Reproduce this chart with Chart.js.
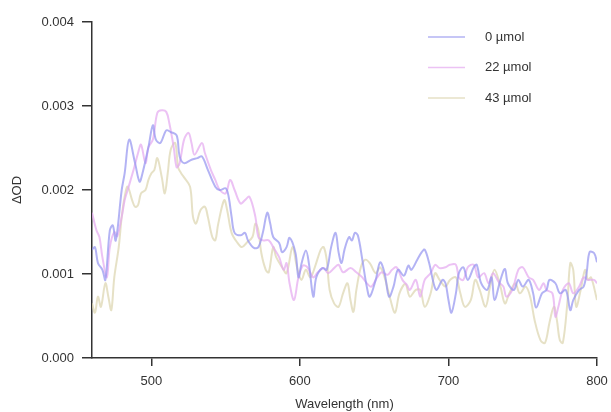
<!DOCTYPE html>
<html>
<head>
<meta charset="utf-8">
<script src="https://cdn.jsdelivr.net/npm/chart.js@4/dist/chart.umd.min.js"></script>
<style>
  body { margin: 0; background: #fff; }
  canvas { display: block; }
</style>
</head>
<body>
<canvas id="odChart" width="611" height="412"></canvas>
<script>
// series labels
const seriesLabels = ['0 µmol', '22 µmol', '43 µmol'];
const xTicks = [500, 600, 700, 800];
const yTicks = [0, 0.001, 0.002, 0.003, 0.004];

// 0 µmol
const nm0 = [460,462,464,467,469,472,474,476,480,482,485,489,492,494,498,501,503,506,510,513,517,519,522,527,531,534,538,543,546,550,552,554,556,560,563,565,569,572,575,578,580,582,586,588,591,593,597,599,601,604,606,609,611,615,618,621,624,626,628,630,633,635,637,639,642,645,647,651,654,657,660,663,666,670,673,675,679,682,684,687,690,692,696,698,700,702,705,707,710,713,717,719,722,726,729,731,735,738,740,744,747,750,754,757,759,763,766,768,772,775,779,782,784,788,791,793,795,798,800];
const od0 = [0.00129,0.00132,0.00113,0.00105,0.00093,0.00152,0.00158,0.00140,0.00200,0.00220,0.00260,0.00232,0.00210,0.00220,0.00251,0.00277,0.00260,0.00256,0.00271,0.00269,0.00265,0.00240,0.00232,0.00236,0.00238,0.00240,0.00224,0.00204,0.00200,0.00202,0.00192,0.00168,0.00149,0.00146,0.00149,0.00140,0.00131,0.00132,0.00149,0.00173,0.00160,0.00144,0.00137,0.00126,0.00132,0.00143,0.00125,0.00096,0.00112,0.00128,0.00113,0.00073,0.00096,0.00107,0.00105,0.00132,0.00149,0.00126,0.00113,0.00129,0.00144,0.00140,0.00149,0.00146,0.00117,0.00085,0.00073,0.00093,0.00114,0.00101,0.00073,0.00085,0.00105,0.00098,0.00110,0.00105,0.00117,0.00126,0.00129,0.00113,0.00089,0.00081,0.00093,0.00089,0.00069,0.00054,0.00077,0.00101,0.00108,0.00093,0.00108,0.00111,0.00089,0.00081,0.00096,0.00069,0.00093,0.00106,0.00089,0.00081,0.00093,0.00085,0.00093,0.00077,0.00060,0.00077,0.00081,0.00093,0.00089,0.00077,0.00081,0.00057,0.00069,0.00081,0.00085,0.00101,0.00126,0.00125,0.00114];

// 22 µmol
const nm22 = [460,463,465,467,470,472,475,477,480,482,484,488,491,493,496,498,501,504,507,510,512,515,517,519,522,525,527,529,534,536,540,543,546,550,553,556,560,563,566,570,572,575,579,582,586,589,591,593,596,599,602,605,609,612,616,619,623,626,629,634,638,642,645,648,652,655,659,662,665,669,672,674,678,681,684,688,691,694,698,701,705,707,710,713,717,720,724,727,730,734,737,739,743,747,750,754,757,761,764,766,770,772,774,777,781,784,788,791,794,798,800];
const od22 = [0.00173,0.00152,0.00144,0.00120,0.00096,0.00132,0.00150,0.00145,0.00168,0.00188,0.00200,0.00224,0.00244,0.00254,0.00232,0.00251,0.00260,0.00292,0.00295,0.00293,0.00280,0.00251,0.00227,0.00232,0.00260,0.00268,0.00256,0.00242,0.00256,0.00244,0.00224,0.00212,0.00200,0.00196,0.00212,0.00200,0.00184,0.00188,0.00192,0.00168,0.00144,0.00140,0.00140,0.00132,0.00120,0.00105,0.00113,0.00089,0.00069,0.00096,0.00110,0.00108,0.00096,0.00102,0.00107,0.00101,0.00107,0.00111,0.00102,0.00107,0.00102,0.00096,0.00089,0.00085,0.00096,0.00102,0.00099,0.00105,0.00108,0.00093,0.00087,0.00081,0.00093,0.00073,0.00093,0.00101,0.00111,0.00107,0.00108,0.00111,0.00111,0.00096,0.00093,0.00108,0.00111,0.00096,0.00101,0.00089,0.00101,0.00090,0.00085,0.00073,0.00081,0.00105,0.00108,0.00096,0.00093,0.00081,0.00089,0.00081,0.00077,0.00049,0.00061,0.00081,0.00089,0.00077,0.00085,0.00096,0.00093,0.00093,0.00089];

// 43 µmol
const nm43 = [460,462,464,466,469,471,473,475,478,480,482,484,487,489,491,493,496,498,500,502,504,507,509,511,513,516,518,520,522,526,528,530,533,536,538,541,543,545,549,551,554,558,561,564,568,570,572,574,577,579,582,584,588,591,595,598,601,604,607,610,614,616,618,620,623,626,629,632,634,636,638,641,644,647,651,654,657,661,664,667,671,674,678,681,684,688,691,694,698,701,705,708,711,715,718,721,725,728,731,735,738,741,745,748,752,755,758,762,765,768,771,773,775,777,780,782,784,786,789,792,794,796,800];
const od43 = [0.00065,0.00054,0.00073,0.00061,0.00089,0.00073,0.00057,0.00096,0.00132,0.00168,0.00192,0.00204,0.00188,0.00180,0.00182,0.00196,0.00200,0.00212,0.00220,0.00224,0.00238,0.00215,0.00196,0.00220,0.00248,0.00256,0.00227,0.00220,0.00215,0.00204,0.00168,0.00160,0.00176,0.00180,0.00168,0.00144,0.00140,0.00160,0.00188,0.00176,0.00149,0.00137,0.00132,0.00137,0.00144,0.00160,0.00152,0.00125,0.00105,0.00102,0.00132,0.00120,0.00108,0.00101,0.00132,0.00108,0.00093,0.00105,0.00096,0.00108,0.00129,0.00132,0.00117,0.00081,0.00065,0.00061,0.00077,0.00089,0.00069,0.00055,0.00081,0.00108,0.00117,0.00113,0.00101,0.00108,0.00096,0.00069,0.00054,0.00077,0.00088,0.00073,0.00081,0.00081,0.00061,0.00077,0.00101,0.00093,0.00085,0.00093,0.00096,0.00077,0.00061,0.00069,0.00093,0.00081,0.00061,0.00085,0.00105,0.00085,0.00065,0.00077,0.00089,0.00077,0.00085,0.00073,0.00045,0.00021,0.00018,0.00042,0.00061,0.00045,0.00021,0.00018,0.00065,0.00113,0.00105,0.00061,0.00081,0.00105,0.00093,0.00096,0.00069];

const lineColors = ['rgba(150, 150, 240, 0.72)', 'rgba(228, 170, 240, 0.72)', 'rgba(220, 214, 176, 0.72)'];

function toPoints(xs, ys) {
    return xs.map((x, i) => ({ x: x, y: ys[i] }));
}

const fontFamily = "'Liberation Sans', Arial, sans-serif";
const textColor = '#333';
const axisColor = '#333';

// legend drawn in top-right corner of the plot
const cornerLegend = {
    id: 'cornerLegend',
    afterDraw(chart) {
        const ctx = chart.ctx;
        ctx.save();
        ctx.font = '13px ' + fontFamily;
        ctx.textBaseline = 'middle';
        chart.data.datasets.forEach((ds, i) => {
            const y = 37 + i * 30.5;
            ctx.strokeStyle = ds.borderColor;
            ctx.lineWidth = 1.6;
            ctx.beginPath();
            ctx.moveTo(428, y);
            ctx.lineTo(465, y);
            ctx.stroke();
            ctx.fillStyle = textColor;
            ctx.fillText(ds.label, 485, y);
        });
        ctx.restore();
    }
};

const ctx = document.getElementById('odChart').getContext('2d');
new Chart(ctx, {
    type: 'line',
    data: {
        datasets: [
            { label: seriesLabels[0], data: toPoints(nm0, od0), borderColor: lineColors[0] },
            { label: seriesLabels[1], data: toPoints(nm22, od22), borderColor: lineColors[1] },
            { label: seriesLabels[2], data: toPoints(nm43, od43), borderColor: lineColors[2] }
        ]
    },
    options: {
        responsive: false,
        animation: false,
        layout: { padding: { top: 22, right: 14, bottom: 0, left: 0 } },
        elements: {
            point: { radius: 0 },
            line: { borderWidth: 2, tension: 0.35, fill: false }
        },
        scales: {
            x: {
                type: 'linear',
                min: 460,
                max: 800,
                afterFit(scale) {
                    scale.height = 54;
                    scale.paddingLeft = 0;
                    scale.paddingRight = 0;
                },
                afterBuildTicks(scale) { scale.ticks = xTicks.map(v => ({ value: v })); },
                ticks: {
                    color: textColor,
                    padding: 8,
                    font: { family: fontFamily, size: 13 }
                },
                grid: { display: true, drawOnChartArea: false, drawTicks: true, tickLength: 8, color: axisColor, lineWidth: 1.5 },
                border: { display: true, color: axisColor, width: 1.5 },
                title: {
                    display: true,
                    text: 'Wavelength (nm)',
                    color: textColor,
                    padding: { top: 0, bottom: 0 },
                    font: { family: fontFamily, size: 13 }
                }
            },
            y: {
                min: 0,
                max: 0.004,
                afterFit(scale) { scale.width = 92; },
                afterBuildTicks(scale) { scale.ticks = yTicks.map(v => ({ value: v })); },
                ticks: {
                    color: textColor,
                    padding: 8,
                    font: { family: fontFamily, size: 13 },
                    callback: v => v.toFixed(3)
                },
                grid: { display: true, drawOnChartArea: false, drawTicks: true, tickLength: 10, color: axisColor, lineWidth: 1.5 },
                border: { display: true, color: axisColor, width: 1.5 },
                title: {
                    display: true,
                    text: 'ΔOD',
                    color: textColor,
                    padding: { top: 10, bottom: 0 },
                    font: { family: fontFamily, size: 13 }
                }
            }
        },
        plugins: {
            legend: { display: false },
            tooltip: { enabled: false }
        }
    },
    plugins: [cornerLegend]
});
</script>
</body>
</html>
